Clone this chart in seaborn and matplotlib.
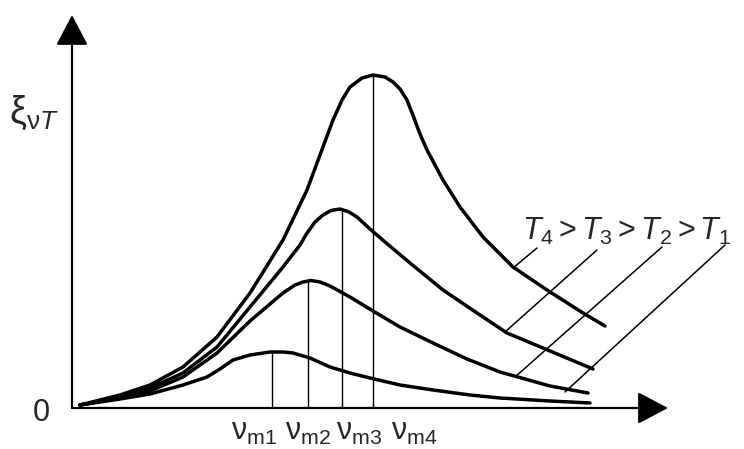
import numpy as np
import pandas as pd
import matplotlib
matplotlib.use("Agg")
import matplotlib.pyplot as plt
import seaborn as sns

# curves (arbitrary units: frequency nu, emissivity xi)
nu_t1 = [0.1, 0.5, 0.9, 1.5, 2.16, 2.64, 2.9, 3.16, 3.5, 3.9, 4.16, 4.36, 4.7, 5.1,
         5.5, 5.9, 6.5, 7.16, 7.9, 8.5, 9.5, 10.3]
xi_t1 = [0.06, 0.12, 0.18, 0.28, 0.46, 0.62, 0.78, 0.96, 1.06, 1.12, 1.12, 1.1, 1.0, 0.82,
         0.7, 0.6, 0.46, 0.36, 0.26, 0.2, 0.14, 0.1]

nu_t2 = [0.1, 0.9, 1.5, 2.16, 2.84, 3.5, 3.9, 4.16, 4.4, 4.56, 4.72, 4.9, 5.1, 5.5,
         5.96, 6.5, 7.16, 7.84, 8.5, 9.5, 10.26]
xi_t2 = [0.06, 0.2, 0.34, 0.62, 1.1, 1.74, 2.08, 2.3, 2.46, 2.52, 2.55, 2.52, 2.44, 2.22,
         1.94, 1.62, 1.3, 0.98, 0.72, 0.44, 0.3]

nu_t3 = [0.1, 0.9, 1.5, 2.16, 2.84, 3.5, 4.16, 4.5, 4.64, 4.8, 4.96, 5.12, 5.3, 5.48,
         5.64, 5.9, 6.2, 6.7, 7.36, 8.04, 8.64, 9.5, 10.36]
xi_t3 = [0.06, 0.22, 0.4, 0.7, 1.22, 2.02, 2.82, 3.26, 3.5, 3.72, 3.86, 3.95, 3.98, 3.92,
         3.82, 3.58, 3.32, 2.9, 2.36, 1.9, 1.5, 1.14, 0.78]

nu_t4 = [0.1, 0.9, 1.5, 2.16, 2.84, 3.5, 4.16, 4.64, 4.9, 5.16, 5.34, 5.5, 5.74, 5.96,
         6.2, 6.36, 6.5, 6.64, 6.78, 6.9, 7.04, 7.36, 7.7, 8.16, 8.76, 9.44, 10.16, 10.6]
xi_t4 = [0.06, 0.26, 0.46, 0.82, 1.42, 2.3, 3.36, 4.36, 5.06, 5.76, 6.16, 6.42, 6.6, 6.66,
         6.62, 6.52, 6.38, 6.16, 5.8, 5.48, 5.16, 4.56, 4.02, 3.42, 2.82, 2.36, 1.9, 1.64]

# maxima of the four curves
peak_nu = [3.94, 4.66, 5.34, 5.96]
peak_xi = [1.12, 2.55, 3.98, 6.66]
peak_labels = ["m1", "m2", "m3", "m4"]
label_nu = [3.12, 4.2, 5.22, 6.32]

# leader lines from the T-label to the curves
leader_start = [(9.24, 3.2), (10.44, 3.16), (11.74, 3.22), (13.0, 3.26)]
leader_end = [(8.76, 2.8), (8.6, 1.52), (8.8, 0.62), (9.8, 0.32)]

frames = []
for name, nu, xi in [("T1", nu_t1, xi_t1), ("T2", nu_t2, xi_t2),
                     ("T3", nu_t3, xi_t3), ("T4", nu_t4, xi_t4)]:
    frames.append(pd.DataFrame({"nu": nu, "xi": xi, "T": name}))
df = pd.concat(frames, ignore_index=True)

sns.set_style("white")
plt.rcParams["font.family"] = ["Liberation Sans", "DejaVu Sans"]
plt.rcParams["mathtext.fontset"] = "custom"
plt.rcParams["mathtext.rm"] = "Liberation Sans"
plt.rcParams["mathtext.it"] = "Liberation Sans:italic"

fig = plt.figure(figsize=(7.44, 4.49), dpi=100)
ax = fig.add_axes([0, 0, 1, 1])
# 1 data unit = 50 px, origin at (75, 408) px
ax.set_xlim(-1.5, 13.38)
ax.set_ylim(-0.82, 8.16)
ax.axis("off")

sns.lineplot(data=df, x="nu", y="xi", units="T", estimator=None, sort=False,
             color="black", linewidth=2.5, ax=ax, legend=False)

# vertical lines at the maxima
for x, y in zip(peak_nu, peak_xi):
    ax.plot([x, x], [0, y], color="black", lw=1.0)

# axes with arrows
arrow = dict(arrowstyle="-|>,head_length=0.95,head_width=0.5", lw=1.6,
             color="black", mutation_scale=20, shrinkA=0, shrinkB=0)
ax.annotate("", xy=(11.86, 0), xytext=(-0.06, 0), arrowprops=arrow)
ax.annotate("", xy=(-0.06, 7.86), xytext=(-0.06, 0), arrowprops=arrow)

# leader lines
for (x0, y0), (x1, y1) in zip(leader_start, leader_end):
    ax.plot([x0, x1], [y0, y1], color="black", lw=1.1)

ax.text(-0.68, -0.1, "0", fontsize=22, ha="center", va="center")
ax.text(-1.32, 5.9, r"$\mathrm{ξ}_{\mathrm{ν}T}$", fontsize=27, ha="left", va="center")
ax.text(8.94, 3.36, r"$T_4 > T_3 > T_2 > T_1$", fontsize=22, ha="left", va="baseline")

for x, lab in zip(label_nu, peak_labels):
    ax.text(x, -0.64, r"$\mathrm{ν}_{\mathrm{" + lab + "}}$", fontsize=22,
            ha="left", va="baseline")

fig.savefig("out.png", dpi=100)
